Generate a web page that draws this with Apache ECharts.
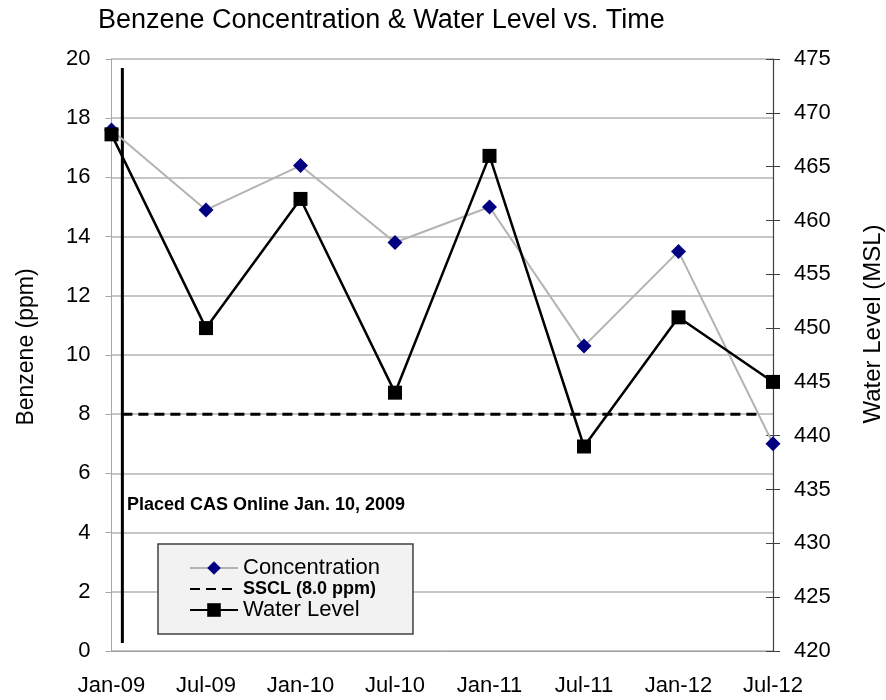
<!DOCTYPE html>
<html>
<head>
<meta charset="utf-8">
<script src="https://cdn.jsdelivr.net/npm/echarts@6/dist/echarts.min.js"></script>
<style>html,body{margin:0;padding:0;background:#fff}#c{width:886px;height:700px}</style>
</head>
<body>
<div id="c"></div>
<script>
const categories = ['Jan-09','Jul-09','Jan-10','Jul-10','Jan-11','Jul-11','Jan-12','Jul-12'];
const concentration = [17.6, 14.9, 16.4, 13.8, 15.0, 10.3, 13.5, 7.0];
const waterLevel = [468, 450, 462, 444, 466, 439, 451, 445];
const ssclValue = 8.0;
const casPosition = 0.115;        // in category-index units (Jan. 10, 2009)
const ssclEndPosition = 6.884;    // in category-index units
const casLineRange = [0.27, 19.7]; // benzene-axis range of the vertical marker
const leftTicks = {min: 0, max: 20, interval: 2};
const rightTicks = {min: 420, max: 475, interval: 5};

const FONT = "'Liberation Sans', Arial, sans-serif";
const chart = echarts.init(document.getElementById('c'));

chart.setOption({
  animation: false,
  backgroundColor: '#ffffff',
  textStyle: {fontFamily: FONT},
  title: {
    text: 'Benzene Concentration & Water Level vs. Time',
    left: 93, top: 2,
    textStyle: {fontFamily: FONT, fontSize: 27, fontWeight: 'normal', color: '#000'}
  },
  grid: {left: 111.5, right: 113, top: 59, bottom: 49, containLabel: false},
  legend: {
    orient: 'vertical',
    left: 158, top: 544,
    padding: [13, 33, 13, 31],
    backgroundColor: '#f2f2f2',
    borderColor: '#404040',
    borderWidth: 1.5,
    borderRadius: 0,
    itemWidth: 48,
    itemHeight: 17,
    itemGap: 1,
    data: [
      'Concentration',
      {name: 'SSCL (8.0 ppm)', itemStyle: {opacity: 0}},
      'Water Level'
    ],
    formatter: function (name) {
      return name.indexOf('SSCL') === 0 ? '{b|' + name + '}' : '{n|' + name + '}';
    },
    textStyle: {
      fontFamily: FONT, color: '#000',
      rich: {
        n: {fontFamily: FONT, fontSize: 22, lineHeight: 21, color: '#000'},
        b: {fontFamily: FONT, fontSize: 18, fontWeight: 'bold', lineHeight: 19, color: '#000'}
      }
    }
  },
  xAxis: [
    {
      type: 'category', data: categories, boundaryGap: false,
      axisLine: {lineStyle: {color: '#a0a0a0', width: 1}},
      axisTick: {show: false},
      axisLabel: {fontFamily: FONT, fontSize: 22, color: '#000', margin: 24},
      splitLine: {show: false}
    },
    {
      type: 'value', min: 0, max: categories.length - 1, show: false
    }
  ],
  yAxis: [
    {
      type: 'value', position: 'left', min: leftTicks.min, max: leftTicks.max, interval: leftTicks.interval,
      axisLine: {show: true, lineStyle: {color: '#a6a6a6', width: 1}},
      axisTick: {show: true, length: 6, lineStyle: {color: '#a6a6a6'}},
      axisLabel: {fontFamily: FONT, fontSize: 22, color: '#000', margin: 21},
      splitLine: {show: true, lineStyle: {color: '#b3b3b3', width: 1.5}}
    },
    {
      type: 'value', position: 'right', min: rightTicks.min, max: rightTicks.max, interval: rightTicks.interval,
      axisLine: {show: true, lineStyle: {color: '#404040', width: 1.2}},
      axisTick: {show: true, length: 7, lineStyle: {color: '#404040'}},
      axisLabel: {fontFamily: FONT, fontSize: 22, color: '#000', margin: 21},
      splitLine: {show: false}
    },
    {
      type: 'value', position: 'right', min: rightTicks.min, max: rightTicks.max, interval: rightTicks.interval,
      axisLine: {show: false},
      axisTick: {show: true, inside: true, length: 7, lineStyle: {color: '#404040'}},
      axisLabel: {show: false},
      splitLine: {show: false}
    }
  ],
  series: [
    {
      name: 'CAS Online', type: 'line', xAxisIndex: 1, yAxisIndex: 0,
      data: [[casPosition, casLineRange[0]], [casPosition, casLineRange[1]]],
      symbol: 'none', silent: true,
      lineStyle: {color: '#000', width: 3}
    },
    {
      name: 'SSCL (8.0 ppm)', type: 'line', xAxisIndex: 1, yAxisIndex: 0,
      data: [[casPosition, ssclValue], [ssclEndPosition, ssclValue]],
      symbol: 'none',
      lineStyle: {color: '#000', width: 3, type: [10, 6]},
      itemStyle: {color: '#000'}
    },
    {
      name: 'Concentration', type: 'line', xAxisIndex: 0, yAxisIndex: 0,
      data: concentration,
      symbol: 'diamond', symbolSize: 15,
      lineStyle: {color: '#b3b3b3', width: 2},
      itemStyle: {color: '#000080'}
    },
    {
      name: 'Water Level', type: 'line', xAxisIndex: 0, yAxisIndex: 1,
      data: waterLevel,
      symbol: 'rect', symbolSize: 14,
      lineStyle: {color: '#000', width: 2.5},
      itemStyle: {color: '#000'}
    }
  ],
  graphic: [
    {
      type: 'text', x: 27, y: 347, rotation: Math.PI / 2,
      style: {text: 'Benzene (ppm)', fontFamily: FONT, fontSize: 23, fill: '#000', align: 'center', verticalAlign: 'middle'}
    },
    {
      type: 'text', x: 873, y: 324, rotation: Math.PI / 2,
      style: {text: 'Water Level (MSL)', fontFamily: FONT, fontSize: 24, fill: '#000', align: 'center', verticalAlign: 'middle'}
    },
    {
      type: 'text', x: 127, y: 505,
      style: {text: 'Placed CAS Online Jan. 10, 2009', fontFamily: FONT, fontSize: 18, fontWeight: 'bold', fill: '#000', align: 'left', verticalAlign: 'middle'}
    }
  ]
});
</script>
</body>
</html>
